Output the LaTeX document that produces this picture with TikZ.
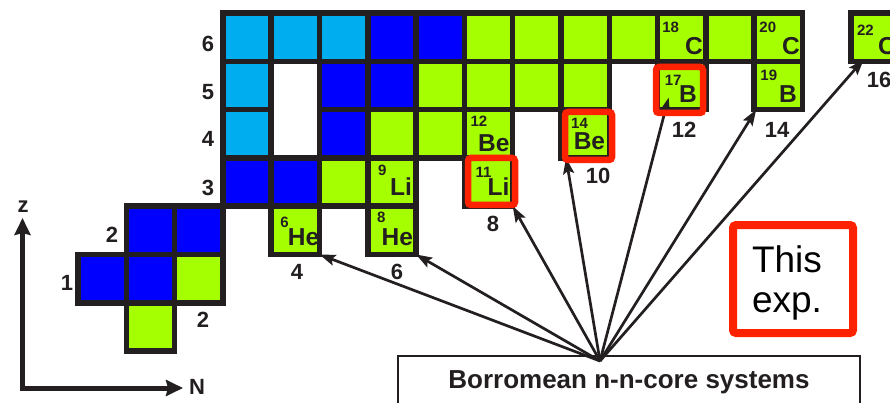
\documentclass[tikz,border=0pt]{standalone}
\usepackage{fontspec}
\setmainfont{Liberation Sans}
\usetikzlibrary{arrows.meta}
\definecolor{lblue}{RGB}{0,174,239}
\definecolor{dblue}{RGB}{0,0,255}
\definecolor{lgreen}{RGB}{166,255,0}
\definecolor{ink}{RGB}{35,31,32}
\definecolor{redb}{RGB}{255,34,0}
\newcommand{\nuc}[3]{\node[cellbox,fill=#3] (c#1-#2) at ({78+48.3*(#1+0.5)},{13+48.3*(6.5-#2)}) {};}
\newcommand{\iso}[8]{%
 \node[massf,anchor=north west] (m#1-#2) at ([xshift=#5pt,yshift=-#6pt]c#1-#2.north west) {#3};
 \node[symf,anchor=base east] (s#1-#2) at ([xshift=-#7pt,yshift=#8pt]c#1-#2.south east) {#4};}
\begin{document}
\begin{tikzpicture}[x=1pt,y=-1pt,
 cellbox/.style={draw=ink,line width=5.5pt,minimum size=48.3pt,inner sep=0pt,outer sep=0pt},
 massf/.style={inner sep=0pt,text=ink,font=\fontsize{15}{15}\selectfont\bfseries},
 symf/.style={inner sep=0pt,text=ink,font=\fontsize{24.5}{24.5}\selectfont\bfseries},
 lab/.style={inner sep=0pt,text=ink,font=\fontsize{22}{22}\selectfont\bfseries},
 conn/.style={draw=ink,line width=2.7pt,-{Stealth[length=16pt,width=11pt,inset=3pt]}},
 redbox/.style={draw=redb,line width=6.5pt,rounded corners=3pt,inner sep=0pt,outer sep=0pt},
 axis/.style={draw=ink,line width=5pt,{Stealth[length=17pt,width=16pt,inset=2pt]}-{Stealth[length=17pt,width=16pt,inset=2pt]}}]
\useasboundingbox (0,0) rectangle (890,403);
% Z=0
\nuc{1}{0}{lgreen}
% Z=1
\nuc{0}{1}{dblue}\nuc{1}{1}{dblue}\nuc{2}{1}{lgreen}
% Z=2
\nuc{1}{2}{dblue}\nuc{2}{2}{dblue}\nuc{4}{2}{lgreen}\nuc{6}{2}{lgreen}
% Z=3
\nuc{3}{3}{dblue}\nuc{4}{3}{dblue}\nuc{5}{3}{lgreen}\nuc{6}{3}{lgreen}\nuc{8}{3}{lgreen}
% Z=4
\nuc{3}{4}{lblue}\nuc{5}{4}{dblue}\nuc{6}{4}{lgreen}\nuc{7}{4}{lgreen}\nuc{8}{4}{lgreen}\nuc{10}{4}{lgreen}
% Z=5
\nuc{3}{5}{lblue}\nuc{5}{5}{dblue}\nuc{6}{5}{dblue}\nuc{7}{5}{lgreen}\nuc{8}{5}{lgreen}\nuc{9}{5}{lgreen}\nuc{10}{5}{lgreen}\nuc{12}{5}{lgreen}\nuc{14}{5}{lgreen}
% Z=6
\nuc{3}{6}{lblue}\nuc{4}{6}{lblue}\nuc{5}{6}{lblue}\nuc{6}{6}{dblue}\nuc{7}{6}{dblue}
\nuc{8}{6}{lgreen}\nuc{9}{6}{lgreen}\nuc{10}{6}{lgreen}\nuc{11}{6}{lgreen}\nuc{12}{6}{lgreen}\nuc{13}{6}{lgreen}\nuc{14}{6}{lgreen}\nuc{16}{6}{lgreen}
% isotope texts
\iso{4}{2}{6}{He}{9}{11}{0}{9}
\iso{6}{2}{8}{He}{9}{6}{3}{9}
\iso{6}{3}{9}{Li}{10}{7}{4}{11}
\iso{8}{3}{11}{Li}{11}{9}{3}{11}
\iso{8}{4}{12}{Be}{6}{6}{3}{6}
\iso{10}{4}{14}{Be}{10}{8}{4}{8}
\iso{12}{5}{17}{B}{7}{14}{9}{7.5}
\iso{14}{5}{19}{B}{6}{9}{5.5}{7.5}
\iso{12}{6}{18}{C}{4.5}{9}{3}{7}
\iso{14}{6}{20}{C}{5}{9}{2.5}{7}
\iso{16}{6}{22}{C}{6}{12}{3}{7}
% row labels
\node[lab] (z6) at (208,44) {6};
\node[lab] (z5) at (208,92) {5};
\node[lab] (z4) at (208,139) {4};
\node[lab] (z3) at (208,188) {3};
\node[lab] (z2) at (112,235) {2};
\node[lab] (z1) at (67,283) {1};
\node[lab] (n2) at (203,320) {2};
% neutron labels
\node[lab] (n4) at (297,272) {4};
\node[lab] (n6) at (397,272) {6};
\node[lab] (n8) at (493,224) {8};
\node[lab] (n10) at (598,176) {10};
\node[lab] (n12) at (684,130) {12};
\node[lab] (n14) at (777,130) {14};
\node[lab] (n16) at (879,80) {16};
% axes
\coordinate (axo) at (22.5,388);
\coordinate (ztip) at (22.5,218);
\coordinate (ntip) at (183,388);
\draw[axis] (ztip) -- (axo) -- (ntip);
\node[lab] (zlab) at (23,207) {z};
\node[lab] (nlab) at (197,387) {N};
% Borromean box
\node[draw=ink,line width=1.8pt,minimum width=462pt,minimum height=52pt,inner sep=0pt,text=ink,font=\fontsize{26}{26}\selectfont\bfseries] (borro) at (629,382) {Borromean n-n-core systems};
\coordinate (hub) at (600,361);
% connectors
\draw[conn] (hub) -- (c4-2.south east);
\draw[conn] (hub) -- (c6-2.south east);
\draw[conn] (hub) -- (c8-3.south east);
\draw[conn] (hub) -- ([xshift=5pt]c10-4.south west);
\draw[conn] (hub) -- ([xshift=11pt,yshift=12pt]c12-5.south west);
\draw[conn] (hub) -- ([xshift=2pt]c14-5.south west);
\draw[conn] (hub) -- ([xshift=13pt,yshift=2pt]c16-6.south west);
% red highlight boxes
\node[redbox,minimum width=47pt,minimum height=47pt] (r11) at (491.5,181.5) {};
\node[redbox,minimum width=47pt,minimum height=48pt] (r14) at (588.5,136) {};
\node[redbox,minimum width=47pt,minimum height=46pt] (r17) at (679.5,90) {};
% This exp.
\node[draw=redb,line width=8pt,rounded corners=3pt,minimum width=120pt,minimum height=108pt,inner sep=0pt] (thisexp) at (793,279) {};
\node[inner sep=0pt,align=left,text=black,font=\fontsize{37}{40}\selectfont] (thistxt) at (787,282.5) {This\\exp.};
\end{tikzpicture}
\end{document}
